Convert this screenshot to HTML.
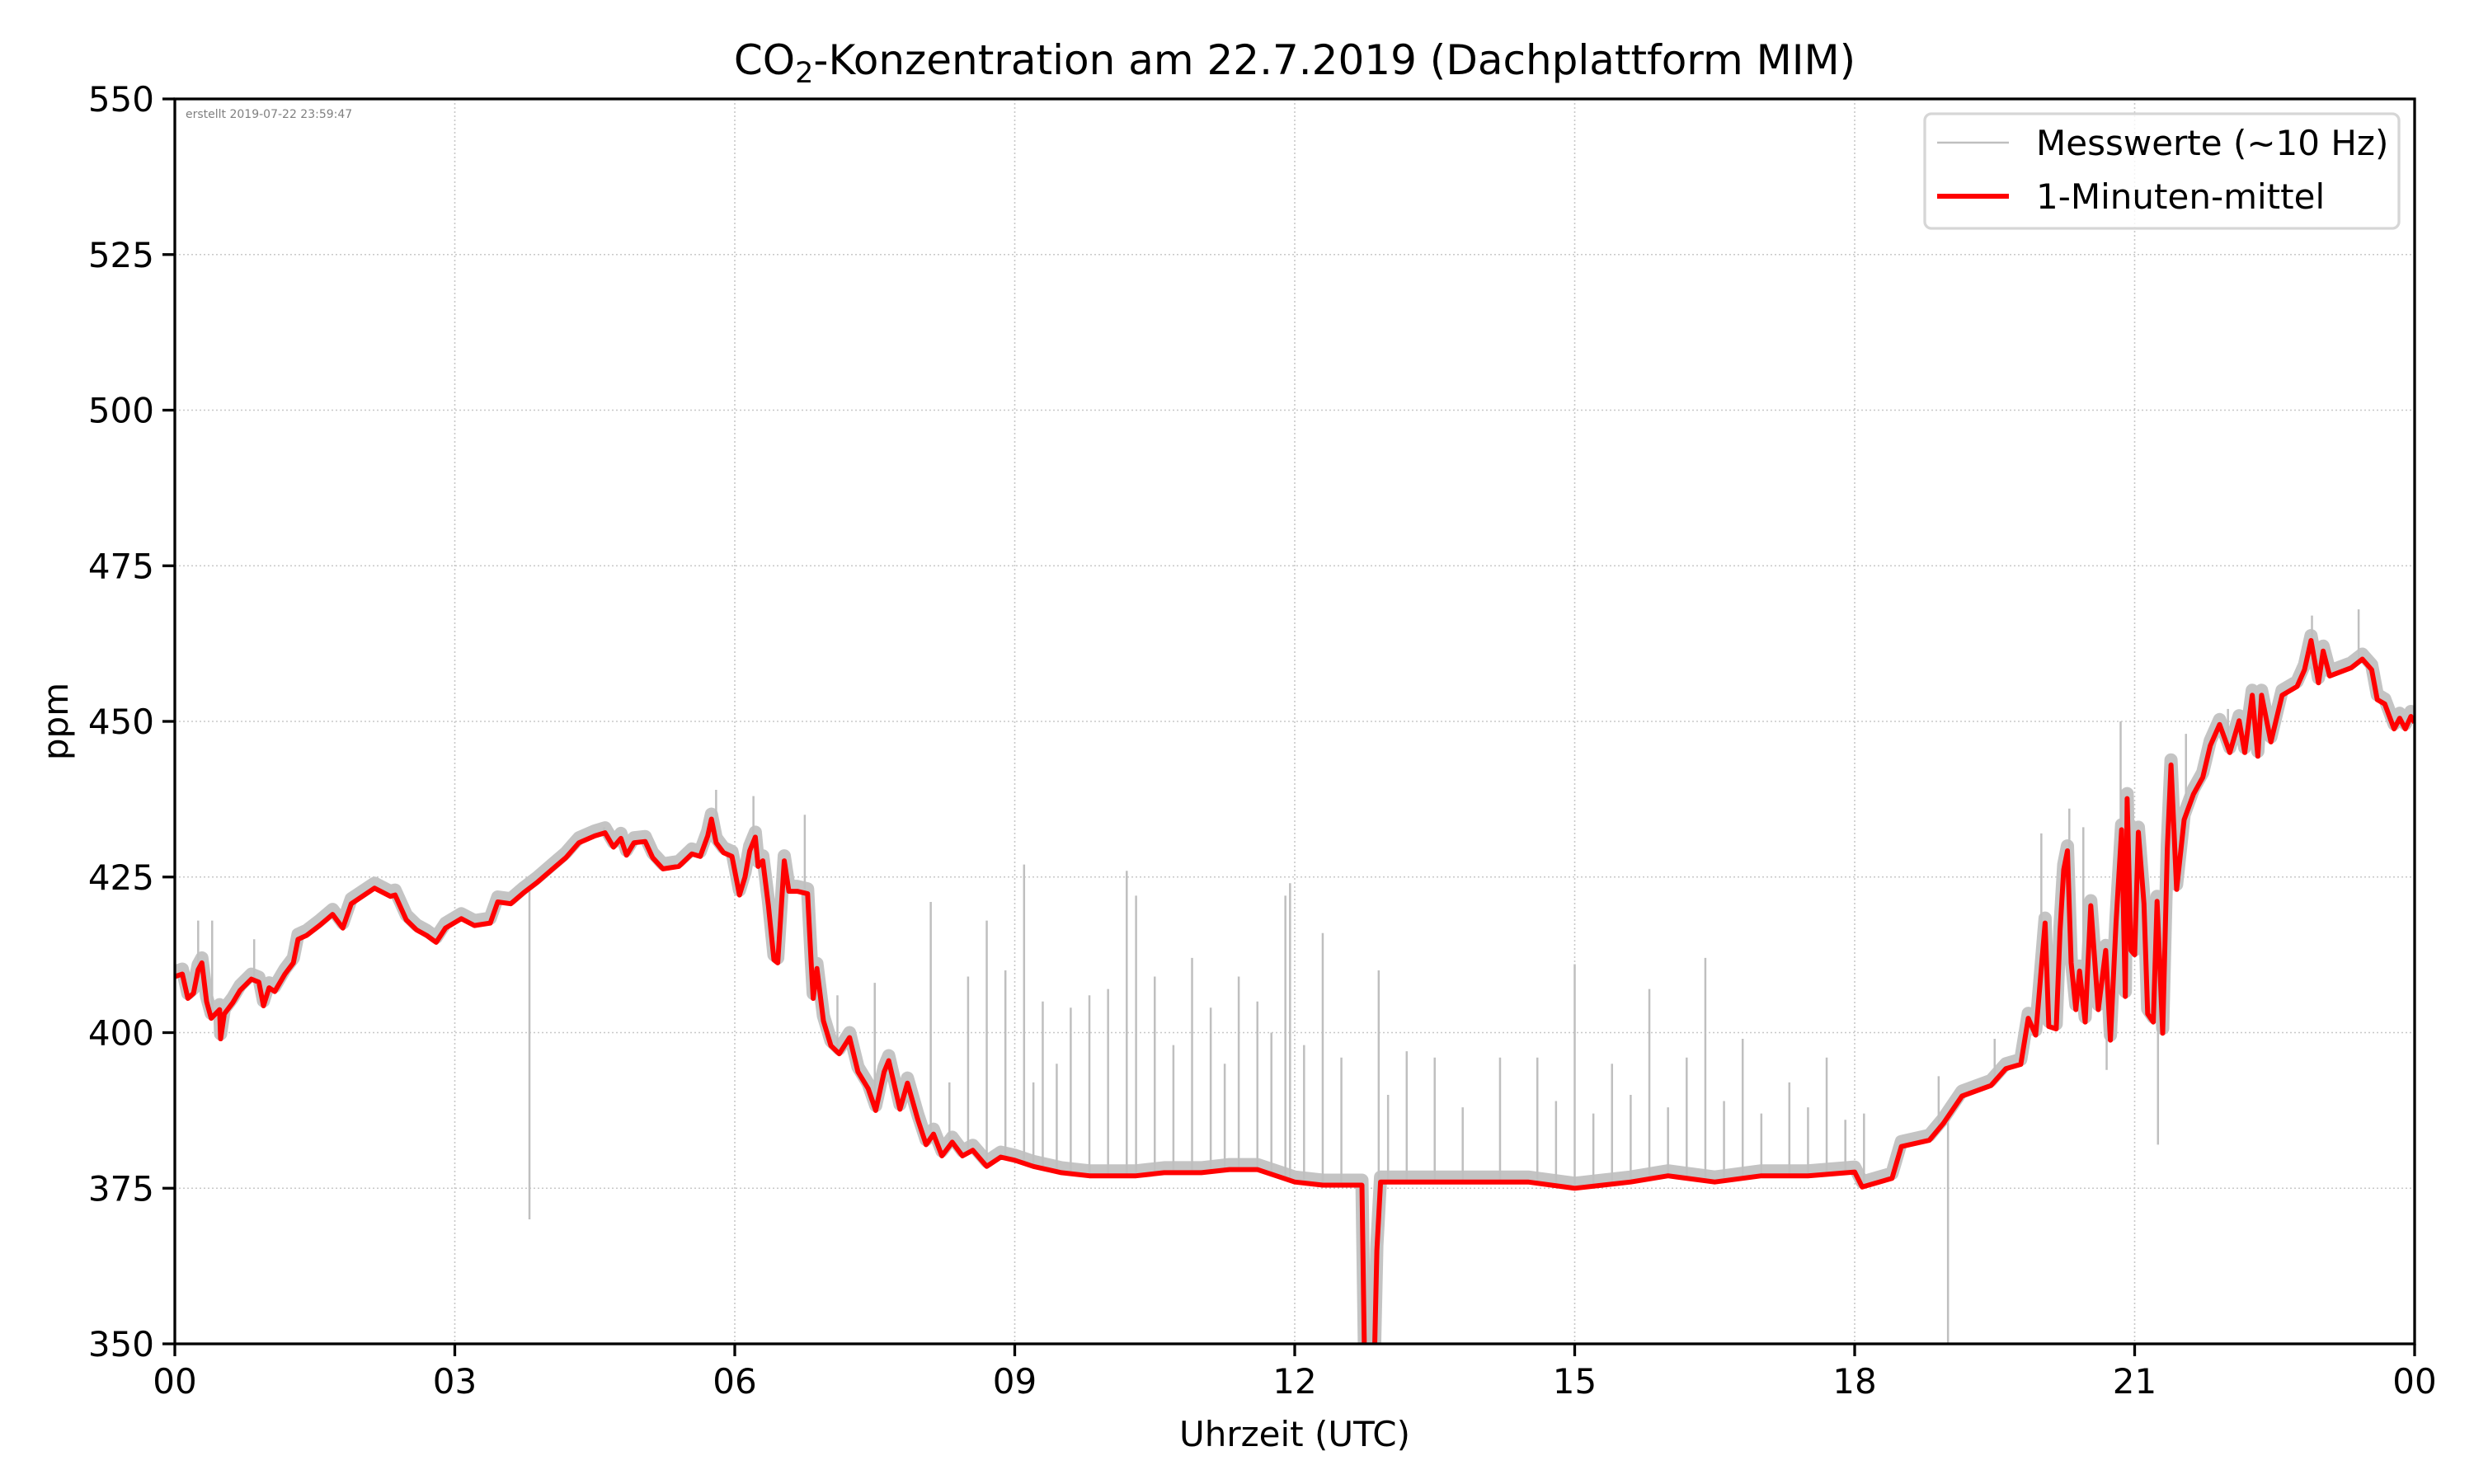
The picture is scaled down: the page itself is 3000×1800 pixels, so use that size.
<!DOCTYPE html>
<html><head><meta charset="utf-8">
<style>
html,body{margin:0;padding:0;background:#fff;}
svg{display:block;font-family:"DejaVu Sans","Liberation Sans",sans-serif;}
</style></head>
<body>
<svg id="chart" xmlns="http://www.w3.org/2000/svg" width="3000" height="1800" viewBox="0 0 3000 1800">
<defs><clipPath id="plotclip"><rect x="212" y="120" width="2716" height="1510"/></clipPath></defs>
<rect x="0" y="0" width="3000" height="1800" fill="#fff"/>
<text x="1570" y="90" font-size="50" text-anchor="middle">CO<tspan font-size="35" dy="10">2</tspan><tspan dy="-10">-Konzentration am 22.7.2019 (Dachplattform MIM)</tspan></text>
<g id="grid"></g>
<g id="series" clip-path="url(#plotclip)"></g>
<text x="225" y="143" font-size="14" fill="#808080">erstellt 2019-07-22 23:59:47</text>
<rect x="212" y="120" width="2716" height="1510" fill="none" stroke="#000" stroke-width="3.3"/>
<g id="axes"></g>
<text x="1570" y="1754" font-size="42" text-anchor="middle">Uhrzeit (UTC)</text>
<text x="0" y="0" font-size="42" text-anchor="middle" transform="translate(82,875) rotate(-90)">ppm</text>
<g>
<rect x="2334" y="138" width="575" height="139" rx="8" fill="#fff" fill-opacity="0.8" stroke="#d6d6d6" stroke-width="3.3"/>
<line x1="2349" y1="173" x2="2436" y2="173" stroke="#bfbfbf" stroke-width="2.5"/>
<text x="2469" y="188" font-size="42">Messwerte (~10 Hz)</text>
<line x1="2349" y1="238" x2="2436" y2="238" stroke="#ff0000" stroke-width="6"/>
<text x="2469" y="253" font-size="42">1-Minuten-mittel</text>
</g>
</svg>
<script>
const xTicks = [0,3,6,9,12,15,18,21,24];
const xTickLabels = ["00","03","06","09","12","15","18","21","00"];
const yTicks = [350,375,400,425,450,475,500,525,550];
const meanHours = [0,0.08,0.14,0.2,0.25,0.29,0.34,0.39,0.48,0.49,0.53,0.62,0.7,0.82,0.9,0.95,1.01,1.07,1.18,1.27,1.32,1.41,1.55,1.69,1.8,1.89,2.03,2.14,2.31,2.36,2.48,2.59,2.7,2.8,2.9,3.07,3.21,3.38,3.46,3.6,3.74,3.88,4.05,4.19,4.33,4.5,4.61,4.7,4.78,4.84,4.92,5.04,5.12,5.23,5.4,5.54,5.63,5.71,5.75,5.8,5.88,5.97,6.05,6.11,6.16,6.22,6.25,6.3,6.36,6.42,6.46,6.53,6.58,6.67,6.78,6.82,6.84,6.88,6.95,7.03,7.12,7.23,7.32,7.43,7.51,7.6,7.65,7.77,7.85,7.96,8.05,8.13,8.22,8.33,8.44,8.55,8.7,8.85,9.0,9.2,9.5,9.8,10.0,10.3,10.6,11.0,11.3,11.6,12.0,12.3,12.6,12.72,12.75,12.85,12.88,12.92,13.2,13.5,14.0,14.5,15.0,15.3,15.6,16.0,16.5,17.0,17.5,18.0,18.08,18.4,18.5,18.8,18.95,19.15,19.46,19.62,19.78,19.86,19.94,19.98,20.04,20.08,20.16,20.2,20.24,20.28,20.32,20.37,20.41,20.47,20.53,20.61,20.69,20.74,20.8,20.86,20.9,20.92,20.96,21.0,21.04,21.1,21.14,21.2,21.24,21.3,21.35,21.39,21.45,21.53,21.63,21.73,21.81,21.91,22.02,22.12,22.18,22.26,22.32,22.36,22.46,22.58,22.74,22.82,22.89,22.97,23.02,23.09,23.32,23.44,23.54,23.6,23.68,23.78,23.84,23.9,23.96,24.0];
const meanPpm = [409,409.4,405.5,406.3,410.1,411.2,405,402.3,403.7,399,403,404.8,406.8,408.6,408.1,404.3,407.2,406.6,409.4,411.2,415,415.6,417.2,419,416.8,420.7,422.1,423.2,421.9,422.1,418.1,416.5,415.6,414.5,416.8,418.3,417.2,417.6,421,420.7,422.5,424.1,426.3,428.1,430.5,431.6,432.1,429.8,431.2,428.5,430.5,430.7,428.1,426.3,426.7,428.7,428.3,431.6,434.3,430.5,428.9,428.3,422.1,425,429.2,431.4,426.7,427.6,420.5,411.7,411.2,427.6,422.7,422.7,422.3,410.8,405.5,410.3,401.9,397.9,396.6,399.2,393.7,391,387.5,393.7,395.5,387.7,391.9,386.1,382,383.7,380.2,382.4,380.2,381.1,378.5,380,379.5,378.5,377.5,377,377,377,377.5,377.5,378,378,376,375.5,375.5,375.5,345,345,365,376,376,376,376,376,375,375.5,376,377,376,377,377,377.6,375.2,376.6,381.7,382.7,385.4,389.8,391.5,394.2,394.9,402.3,399.6,406.8,417.6,401,400.6,416.3,426.2,429.2,411.2,403.7,409.9,401.7,420.4,403.7,413.2,398.8,417.6,432.6,405.8,437.6,413.2,412.5,432.2,420.7,403,401.7,421.1,399.9,429.5,443,423,434.2,438.3,441,446.1,449.5,445,450.1,445,454.2,444.4,454.2,446.7,454.2,455.6,458.3,463,456.2,461.3,457.3,458.6,460,458.3,453.5,452.8,448.8,450.5,448.8,450.8,449.8];
const spikeHours = [0.25,0.4,0.85,1.3,3.8,4.6,5.8,6.2,6.75,7.1,7.5,8.1,8.3,8.5,8.7,8.9,9.1,9.2,9.3,9.45,9.6,9.8,10.0,10.2,10.3,10.5,10.7,10.9,11.1,11.25,11.4,11.6,11.75,11.9,11.95,12.1,12.3,12.5,12.9,13.0,13.2,13.5,13.8,14.2,14.6,14.8,15.0,15.2,15.4,15.6,15.8,16.0,16.2,16.4,16.6,16.8,17.0,17.3,17.5,17.7,17.9,18.1,18.9,19.0,19.5,20.0,20.3,20.45,20.7,20.85,21.05,21.25,21.55,22.0,22.9,23.4];
const spikePpm = [418,418,415,414,370,433,439,438,435,406,408,421,392,409,418,410,427,392,405,395,404,406,407,426,422,409,398,412,404,395,409,405,400,422,424,398,416,396,410,390,397,396,388,396,396,389,411,387,395,390,407,388,396,412,389,399,387,392,388,396,386,387,393,350,399,432,436,433,394,450,430,382,448,452,467,468];

const L=212,R=2928,T=120,B=1630;
const xs = h => L + h/24*(R-L);
const ys = v => B - (v-350)/200*(B-T);
const NS="http://www.w3.org/2000/svg";
function mk(tag, parent){const e=document.createElementNS(NS,tag);parent.appendChild(e);return e;}
function baseAt(h){for(let i=1;i<meanHours.length;i++){if(meanHours[i]>=h){const a=meanHours[i-1],b=meanHours[i];const t=b===a?0:(h-a)/(b-a);return meanPpm[i-1]+t*(meanPpm[i]-meanPpm[i-1]);}}return meanPpm[meanPpm.length-1];}

const grid=document.getElementById('grid');
xTicks.forEach((h,i)=>{
  const g=mk('line',grid);
  
  
  g.setAttribute('x1',xs(h));g.setAttribute('x2',xs(h));g.setAttribute('y1',T);g.setAttribute('y2',B);
  g.setAttribute('stroke','#c8c8c8');g.setAttribute('stroke-width','1.6');g.setAttribute('stroke-dasharray','2,3');
});
yTicks.forEach(v=>{
  const g=mk('line',grid);
  
  
  g.setAttribute('x1',L);g.setAttribute('x2',R);g.setAttribute('y1',ys(v));g.setAttribute('y2',ys(v));
  g.setAttribute('stroke','#c8c8c8');g.setAttribute('stroke-width','1.6');g.setAttribute('stroke-dasharray','2,3');
});

const series=document.getElementById('series');
const meanD = meanHours.map((h,i)=>(i?'L':'M')+xs(h).toFixed(1)+','+ys(meanPpm[i]).toFixed(1)).join(' ');
const bandD = meanHours.map((h,i)=>(i?'L':'M')+xs(h).toFixed(1)+','+(ys(meanPpm[i])-6).toFixed(1)).join(' ');
const band=mk('path',series);


band.setAttribute('d',bandD);band.setAttribute('fill','none');band.setAttribute('stroke','#c4c4c4');band.setAttribute('stroke-width','16');band.setAttribute('stroke-linejoin','round');
spikeHours.forEach((h,i)=>{
  const s=mk('line',series);
  
  
  s.setAttribute('x1',xs(h));s.setAttribute('x2',xs(h));
  s.setAttribute('y1',ys(baseAt(h)));s.setAttribute('y2',ys(spikePpm[i]));
  s.setAttribute('stroke','#bfbfbf');s.setAttribute('stroke-width','2.5');
});
const ml=mk('path',series);


ml.setAttribute('d',meanD);ml.setAttribute('fill','none');ml.setAttribute('stroke','#ff0000');ml.setAttribute('stroke-width','6');ml.setAttribute('stroke-linejoin','round');

const axes=document.getElementById('axes');
xTicks.forEach((h,i)=>{
  const t=mk('line',axes);
  
  
  t.setAttribute('x1',xs(h));t.setAttribute('x2',xs(h));t.setAttribute('y1',B);t.setAttribute('y2',B+15);
  t.setAttribute('stroke','#000');t.setAttribute('stroke-width','3.3');
  const lb=mk('text',axes);
  
  
  lb.setAttribute('x',xs(h));lb.setAttribute('y',B+60);lb.setAttribute('font-size','42');lb.setAttribute('text-anchor','middle');
  lb.textContent=xTickLabels[i];
});
yTicks.forEach(v=>{
  const t=mk('line',axes);
  
  
  t.setAttribute('x1',L-15);t.setAttribute('x2',L);t.setAttribute('y1',ys(v));t.setAttribute('y2',ys(v));
  t.setAttribute('stroke','#000');t.setAttribute('stroke-width','3.3');
  const lb=mk('text',axes);
  
  
  lb.setAttribute('x',L-25);lb.setAttribute('y',ys(v)+15);lb.setAttribute('font-size','42');lb.setAttribute('text-anchor','end');
  lb.textContent=String(v);
});
</script>
</body></html>
